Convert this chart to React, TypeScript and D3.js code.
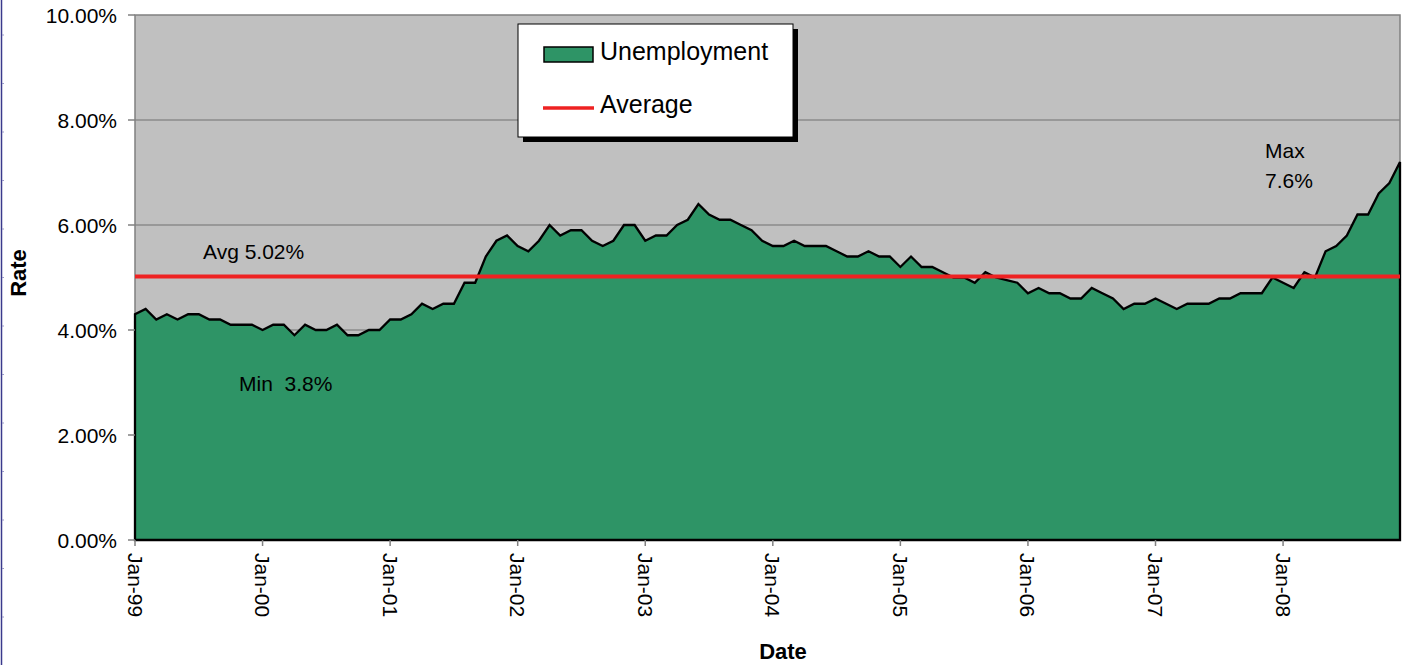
import React, { useEffect, useRef } from "react";
import * as d3 from "d3";

// Monthly unemployment rate (%), Jan-99 .. Dec-08
const rate1999 = [4.3, 4.4, 4.2, 4.3, 4.2, 4.3, 4.3, 4.2, 4.2, 4.1, 4.1, 4.1];
const rate2000 = [4.0, 4.1, 4.1, 3.9, 4.1, 4.0, 4.0, 4.1, 3.9, 3.9, 4.0, 4.0];
const rate2001 = [4.2, 4.2, 4.3, 4.5, 4.4, 4.5, 4.5, 4.9, 4.9, 5.4, 5.7, 5.8];
const rate2002 = [5.6, 5.5, 5.7, 6.0, 5.8, 5.9, 5.9, 5.7, 5.6, 5.7, 6.0, 6.0];
const rate2003 = [5.7, 5.8, 5.8, 6.0, 6.1, 6.4, 6.2, 6.1, 6.1, 6.0, 5.9, 5.7];
const rate2004 = [5.6, 5.6, 5.7, 5.6, 5.6, 5.6, 5.5, 5.4, 5.4, 5.5, 5.4, 5.4];
const rate2005 = [5.2, 5.4, 5.2, 5.2, 5.1, 5.0, 5.0, 4.9, 5.1, 5.0, 4.95, 4.9];
const rate2006 = [4.7, 4.8, 4.7, 4.7, 4.6, 4.6, 4.8, 4.7, 4.6, 4.4, 4.5, 4.5];
const rate2007 = [4.6, 4.5, 4.4, 4.5, 4.5, 4.5, 4.6, 4.6, 4.7, 4.7, 4.7, 5.0];
const rate2008 = [4.9, 4.8, 5.1, 5.0, 5.5, 5.6, 5.8, 6.2, 6.2, 6.6, 6.8, 7.2];

const rates = [
  ...rate1999, ...rate2000, ...rate2001, ...rate2002, ...rate2003,
  ...rate2004, ...rate2005, ...rate2006, ...rate2007, ...rate2008,
];

const averageRate = 5.02;
const yearLabels = ["Jan-99", "Jan-00", "Jan-01", "Jan-02", "Jan-03", "Jan-04", "Jan-05", "Jan-06", "Jan-07", "Jan-08"];
const yTicks = [0, 2, 4, 6, 8, 10];
const legendItems = ["Unemployment", "Average"];

const W = 1410;
const H = 665;
const FONT = "'Liberation Sans', Arial, sans-serif";

export default function App() {
  const ref = useRef<SVGSVGElement>(null);

  useEffect(() => {
    const svg = d3.select(ref.current);
    svg.selectAll("*").remove();

    const left = 135, right = 1400, top = 15, bottom = 540;
    const x = d3.scaleLinear().domain([0, rates.length - 1]).range([left, right]);
    const y = d3.scaleLinear().domain([0, 10]).range([bottom, top]);

    svg.append("rect").attr("width", W).attr("height", H).attr("fill", "#ffffff");

    // left ruler line
    svg.append("line").attr("x1", 1.5).attr("x2", 1.5).attr("y1", 0).attr("y2", H)
      .attr("stroke", "#3a3a8c").attr("stroke-width", 1.5);
    d3.range(35, H, 48.5).forEach((ty) => {
      svg.append("line").attr("x1", 2).attr("x2", 4).attr("y1", ty).attr("y2", ty)
        .attr("stroke", "#9a9ac8").attr("stroke-width", 1);
    });

    // plot background
    svg.append("rect").attr("x", left).attr("y", top).attr("width", right - left).attr("height", bottom - top)
      .attr("fill", "#C0C0C0");

    // gridlines
    yTicks.filter((t) => t > 0 && t < 10).forEach((t) => {
      svg.append("line").attr("x1", left).attr("x2", right).attr("y1", y(t)).attr("y2", y(t))
        .attr("stroke", "#707070").attr("stroke-width", 1);
    });

    // plot border
    svg.append("rect").attr("x", left).attr("y", top).attr("width", right - left).attr("height", bottom - top)
      .attr("fill", "none").attr("stroke", "#808080").attr("stroke-width", 1.5);

    // area
    const area = d3.area<number>().x((_, i) => x(i)).y0(y(0)).y1((d) => y(d));
    svg.append("path").datum(rates).attr("d", area as any)
      .attr("fill", "#2E9466");
    // outline (closed polygon)
    const pts: [number, number][] = rates.map((d, i) => [x(i), y(d)]);
    const poly = [[x(0), y(0)] as [number, number], ...pts, [x(rates.length - 1), y(0)] as [number, number]];
    svg.append("path").attr("d", d3.line()(poly) + "Z")
      .attr("fill", "none").attr("stroke", "#000").attr("stroke-width", 2.3).attr("stroke-linejoin", "miter");

    // average line
    svg.append("line").attr("x1", left).attr("x2", right).attr("y1", y(averageRate)).attr("y2", y(averageRate))
      .attr("stroke", "#EE2222").attr("stroke-width", 4);

    // y axis ticks & labels
    yTicks.forEach((t) => {
      svg.append("line").attr("x1", left - 7).attr("x2", left).attr("y1", y(t)).attr("y2", y(t))
        .attr("stroke", "#808080").attr("stroke-width", 1.5);
      svg.append("text").attr("x", 117).attr("y", y(t) + 7.5).attr("text-anchor", "end")
        .attr("font-family", FONT).attr("font-size", 21).attr("fill", "#000")
        .text(d3.format(".2f")(t) + "%");
    });

    // x axis ticks & labels
    yearLabels.forEach((lab, k) => {
      const tx = x(k * 12);
      svg.append("line").attr("x1", tx).attr("x2", tx).attr("y1", bottom).attr("y2", bottom + 6)
        .attr("stroke", "#808080").attr("stroke-width", 1.5);
      svg.append("text").attr("transform", `translate(${tx - 7.5},${bottom + 13}) rotate(90)`)
        .attr("font-family", FONT).attr("font-size", 21).attr("fill", "#000")
        .text(lab);
    });

    // axis titles
    svg.append("text").attr("transform", `translate(26,273) rotate(-90)`).attr("text-anchor", "middle")
      .attr("font-family", FONT).attr("font-size", 22).attr("font-weight", "bold").text("Rate");
    svg.append("text").attr("x", 783).attr("y", 659).attr("text-anchor", "middle")
      .attr("font-family", FONT).attr("font-size", 22).attr("font-weight", "bold").text("Date");

    // annotations
    const ann = (tx: number, ty: number, s: string) =>
      svg.append("text").attr("x", tx).attr("y", ty).attr("font-family", FONT).attr("font-size", 21)
        .attr("fill", "#000").attr("xml:space", "preserve").style("white-space", "pre").text(s);
    ann(203, 259, "Avg 5.02%");
    ann(239, 391, "Min  3.8%");
    ann(1265, 158, "Max");
    ann(1265, 188, "7.6%");

    // legend
    const lx = 518, ly = 24, lw = 275, lh = 113;
    svg.append("rect").attr("x", lx + 5).attr("y", ly + 5).attr("width", lw).attr("height", lh).attr("fill", "#000");
    svg.append("rect").attr("x", lx).attr("y", ly).attr("width", lw).attr("height", lh)
      .attr("fill", "#fff").attr("stroke", "#000").attr("stroke-width", 1);
    svg.append("rect").attr("x", 544).attr("y", 47).attr("width", 49).attr("height", 15)
      .attr("fill", "#2E9466").attr("stroke", "#000").attr("stroke-width", 1.5);
    svg.append("line").attr("x1", 543).attr("x2", 594).attr("y1", 108).attr("y2", 108)
      .attr("stroke", "#EE2222").attr("stroke-width", 3.5);
    svg.append("text").attr("x", 600).attr("y", 60).attr("font-family", FONT).attr("font-size", 25).text(legendItems[0]);
    svg.append("text").attr("x", 600).attr("y", 113).attr("font-family", FONT).attr("font-size", 25).text(legendItems[1]);
  }, []);

  return (
    <svg ref={ref} width={W} height={H}
      style={{ position: "absolute", left: 0, top: 0, display: "block" }} />
  );
}
